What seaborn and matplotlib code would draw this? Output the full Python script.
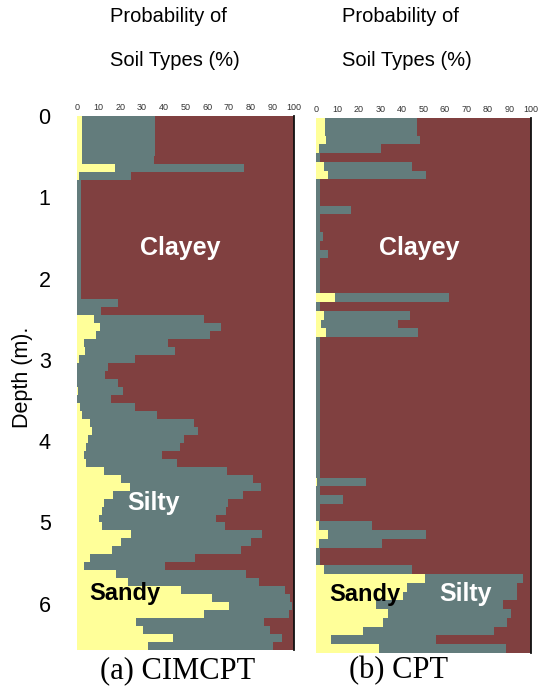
import numpy as np
import pandas as pd
import matplotlib
matplotlib.use("Agg")
import matplotlib.pyplot as plt
import seaborn as sns

soil_types = ["Clayey", "Silty", "Sandy"]
soil_colors = {"Sandy": "#FFFF99", "Silty": "#637C7C", "Clayey": "#804040"}
x_ticks = [0, 10, 20, 30, 40, 50, 60, 70, 80, 90, 100]
depth_ticks = [0, 1, 2, 3, 4, 5, 6]
max_depth = 6.57

# (a) CIMCPT: sandy % and sandy+silty % per layer, surface downwards
sandy_a = [2.5, 2.5, 2.5, 2.5, 2.5, 2.5, 17.5, 1.0, 0, 0,
           0, 0, 0, 0, 0, 0, 0, 0, 0, 0,
           0, 0, 0, 0, 0, 7.9, 10.5, 8.6, 3.1, 3.7,
           1.1, 0, 0, 0, 0.6, 0, 1.2, 2.3, 6.2, 6.8,
           4.9, 4.2, 3.1, 4.3, 12.3, 20.5, 24.4, 16.7, 12.3, 11.6,
           10.0, 11.7, 24.8, 20.5, 16.2, 6.2, 3.1, 18.2, 23.6, 48.0,
           62.2, 70.0, 58.3, 27.2, 30.6, 44.4, 32.9]
sandy_silty_a = [36, 36, 36, 36, 36, 35.5, 77, 25, 1.7, 1.7,
                 1.7, 1.7, 1.7, 1.7, 1.7, 1.7, 1.7, 1.7, 1.7, 1.7,
                 1.7, 1.7, 1.7, 18.7, 11.0, 58.6, 66.4, 61.3, 41.8, 45.0,
                 26.9, 14.4, 13.1, 18.7, 21.1, 15.6, 26.9, 36.9, 53.7, 55.6,
                 49.4, 47.5, 39.4, 46.3, 69.3, 81.2, 84.6, 76.4, 69.4, 68.7,
                 63.9, 68.2, 85.2, 80.2, 75.8, 54.5, 40.7, 77.9, 84.1, 95.7,
                 98.1, 99.2, 97.7, 86.4, 88.9, 94.3, 90.3]

# (b) CPT
sandy_b = [4.4, 4.4, 4.8, 1.2, 0, 3.6, 5.4, 0, 0, 0,
           0, 0, 0, 0, 0, 0, 0, 0, 0, 0,
           8.9, 0, 3.6, 2.5, 4.5, 0, 0, 0, 0, 0,
           0, 0, 0, 0, 0, 0, 0, 0, 0, 0,
           0, 0.5, 0, 0, 0, 0, 1.6, 5.4, 1.6, 0,
           0, 3.6, 50.7, 42.5, 40.6, 28.1, 33.6, 31.3, 21.9, 7.0, 29.2]
sandy_silty_b = [46.8, 46.8, 48.2, 30.0, 1.8, 44.8, 51.3, 1.8, 1.8, 1.8,
                 16.3, 1.8, 1.8, 3.1, 1.8, 5.6, 1.8, 1.8, 1.8, 1.8,
                 61.9, 1.8, 43.9, 38.1, 47.6, 1.8, 1.8, 1.8, 1.8, 1.8,
                 1.8, 1.8, 1.8, 1.8, 1.8, 1.8, 1.8, 1.8, 1.8, 1.8,
                 1.8, 23.2, 1.8, 12.4, 1.8, 1.8, 26.1, 51.2, 30.6, 1.8,
                 1.8, 44.5, 96.4, 93.3, 93.3, 87.1, 90.7, 88.8, 82.6, 55.7, 88.3]


def to_long(sandy, sandy_silty):
    # equal-thickness layers over the full depth of the log
    n = len(sandy)
    dz = max_depth / n
    edges = np.arange(n + 1) * dz
    mid = (edges[:-1] + edges[1:]) / 2
    sandy = np.asarray(sandy, dtype=float)
    cum = np.asarray(sandy_silty, dtype=float)
    df = pd.DataFrame({
        "depth": np.tile(mid, 3),
        "soil": np.repeat(["Sandy", "Silty", "Clayey"], n),
        "pct": np.concatenate([sandy, cum - sandy, 100 - cum]),
    })
    return df, edges.tolist()


def draw_log(ax, sandy, sandy_silty, show_depth):
    df, edges = to_long(sandy, sandy_silty)
    sns.histplot(data=df, y="depth", weights="pct", hue="soil",
                 hue_order=soil_types, multiple="stack", bins=edges,
                 element="step", palette=soil_colors, alpha=1, linewidth=0,
                 legend=False, ax=ax)
    ax.set_xlim(0, 100)
    ax.set_ylim(max_depth, 0)
    ax.xaxis.tick_top()
    ax.set_xticks(x_ticks)
    ax.tick_params(axis="x", length=0, labelsize=6.5, pad=3, labelcolor="#333333")
    ax.set_xlabel("")
    if show_depth:
        ax.set_yticks(depth_ticks)
        ax.tick_params(axis="y", length=0, labelsize=15.5, pad=19)
        ax.set_ylabel("Depth (m).", fontsize=15.5)
        ax.yaxis.set_label_coords(-0.205, 0.51)
    else:
        ax.set_yticks([])
        ax.set_ylabel("")
    for side in ["left", "top", "bottom"]:
        ax.spines[side].set_visible(False)
    ax.spines["right"].set_color("#111111")
    ax.spines["right"].set_linewidth(1.3)


sns.set_style("white")
plt.rcParams["font.family"] = ["Liberation Sans", "DejaVu Sans"]
plt.rcParams["text.color"] = "black"
plt.rcParams["axes.labelcolor"] = "black"
plt.rcParams["ytick.color"] = "black"

W, H = 539, 689
fig = plt.figure(figsize=(W / 100, H / 100), dpi=100)
ax_a = fig.add_axes([77 / W, 1 - 650 / H, 217 / W, 534 / H])
ax_b = fig.add_axes([316 / W, 1 - 653 / H, 215 / W, 535 / H])

draw_log(ax_a, sandy_a, sandy_silty_a, True)
draw_log(ax_b, sandy_b, sandy_silty_b, False)

bold = dict(fontsize=18, fontweight="bold", ha="center", va="center")
ax_a.text(47.7, 1.62, "Clayey", color="white", **bold)
ax_a.text(35.4, 4.76, "Silty", color="white", **bold)
ax_a.text(22.1, 5.88, "Sandy", color="black", **{**bold, "fontsize": 17})
ax_b.text(48.1, 1.60, "Clayey", color="white", **bold)
ax_b.text(69.5, 5.85, "Silty", color="white", **bold)
ax_b.text(22.7, 5.85, "Sandy", color="black", **{**bold, "fontsize": 17})

for x0 in [110, 342]:
    fig.text(x0 / W, 1 - 17 / H, "Probability of", fontsize=14.5, ha="left", va="center")
    fig.text(x0 / W, 1 - 60 / H, "Soil Types (%)", fontsize=14.5, ha="left", va="center")

serif = ["Liberation Serif", "DejaVu Serif"]
fig.text(177.5 / W, 1 - 671 / H, "(a) CIMCPT", fontsize=22, family=serif,
         ha="center", va="center")
fig.text(399 / W, 1 - 671 / H, "(b) CPT", fontsize=22, family=serif,
         ha="center", va="center")

fig.savefig("out.png", dpi=100)
